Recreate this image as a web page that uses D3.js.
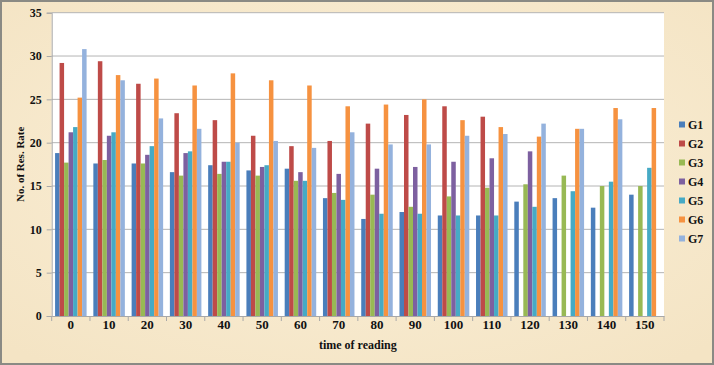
<!DOCTYPE html>
<html><head><meta charset="utf-8">
<script src="https://cdn.jsdelivr.net/npm/d3@7"></script>
<style>
html,body{margin:0;padding:0;background:#fff;}
svg{display:block;}
text{font-family:"Liberation Serif","Times New Roman",serif;font-weight:bold;fill:#111;}
</style></head>
<body><svg id="c" width="714" height="365"></svg>
<script>
const categories = ["0","10","20","30","40","50","60","70","80","90","100","110","120","130","140","150"];
const seriesNames = ["G1","G2","G3","G4","G5","G6","G7"];
const G1 = [18.8,17.6,17.6,16.6,17.4,16.8,17.0,13.6,11.2,12.0,11.6,11.6,13.2,13.6,12.5,14.0];
const G2 = [29.2,29.4,26.8,23.4,22.6,20.8,19.6,20.2,22.2,23.2,24.2,23.0,null,null,null,null];
const G3 = [17.7,18.0,17.6,16.2,16.4,16.2,15.6,14.2,14.0,12.6,13.8,14.8,15.2,16.2,15.0,15.0];
const G4 = [21.2,20.8,18.6,18.8,17.8,17.2,16.6,16.4,17.0,17.2,17.8,18.2,19.0,null,null,null];
const G5 = [21.8,21.2,19.6,19.0,17.8,17.4,15.6,13.4,11.8,11.8,11.6,11.6,12.6,14.4,15.5,17.1];
const G6 = [25.2,27.8,27.4,26.6,28.0,27.2,26.6,24.2,24.4,25.0,22.6,21.8,20.7,21.6,24.0,24.0];
const G7 = [30.8,27.2,22.8,21.6,20.0,20.2,19.4,21.2,19.8,19.8,20.8,21.0,22.2,21.6,22.7,null];
const yTicks = [0,5,10,15,20,25,30,35];
const colors = ["#4A7EBB","#BE4B48","#98B954","#7D60A0","#46AAC5","#F69240","#94B2DD"];
const seriesData = [G1,G2,G3,G4,G5,G6,G7];

(function(){
const svg = d3.select("#c");
const W = 714, H = 365;

const defs = svg.append("defs");
const rg = defs.append("radialGradient").attr("id","bg").attr("cx","50%").attr("cy","45%").attr("r","70%");
rg.append("stop").attr("offset","0%").attr("stop-color","#FBF0D9");
rg.append("stop").attr("offset","100%").attr("stop-color","#F4E4C4");
svg.append("rect").attr("x",0).attr("y",0).attr("width",W).attr("height",H).attr("fill","url(#bg)");
svg.append("rect").attr("x",1).attr("y",1).attr("width",W-2).attr("height",H-2)
  .attr("fill","none").attr("stroke","#8a8a84").attr("stroke-width",2);

const pL = 51.7, pR = 664, pT = 12.7, pB = 316;
svg.append("rect").attr("x",pL).attr("y",pT).attr("width",pR-pL).attr("height",pB-pT).attr("fill","#fff");

const y = d3.scaleLinear().domain([0,35]).range([pB, pT]);
const x0 = d3.scaleBand().domain(categories).range([pL, pR]).padding(0);
const x1 = d3.scaleBand().domain(seriesNames).range([0, x0.bandwidth()]).paddingInner(0).paddingOuter(0.75);

svg.append("g").selectAll("line").data(yTicks.filter(d=>d>0)).join("line")
  .attr("x1",pL).attr("x2",pR).attr("y1",d=>y(d)).attr("y2",d=>y(d))
  .attr("stroke","#B4B4B4").attr("stroke-width",1);

const gBars = svg.append("g");
seriesNames.forEach((s,i)=>{
  gBars.append("g").selectAll("rect")
    .data(categories.map((c,j)=>({c, v: seriesData[i][j]})).filter(d=>d.v!=null))
    .join("rect")
    .attr("x",d=>x0(d.c)+x1(s))
    .attr("y",d=>y(d.v))
    .attr("width",x1.bandwidth())
    .attr("height",d=>pB-y(d.v))
    .attr("fill",colors[i]);
});

const yAxis = d3.axisLeft(y).tickValues(yTicks).tickSize(5).tickPadding(5).tickFormat(d3.format("d"));
const ga = svg.append("g").attr("transform",`translate(${pL},0)`).call(yAxis);
ga.select(".domain").attr("stroke","#A8A8A8");
ga.selectAll(".tick line").attr("stroke","#A8A8A8");
ga.selectAll("text").attr("font-size",12).attr("font-family","Liberation Serif").attr("font-weight","bold").attr("fill","#111");

const xAxis = d3.axisBottom(x0).tickSize(0).tickPadding(4);
const gx = svg.append("g").attr("transform",`translate(0,${pB})`).call(xAxis);
gx.select(".domain").attr("stroke","#A8A8A8");
gx.selectAll("text").attr("font-size",13).attr("font-family","Liberation Serif").attr("font-weight","bold").attr("fill","#111");
svg.append("g").selectAll("line").data(categories.concat(["end"])).join("line")
  .attr("x1",(d,i)=> i<categories.length ? x0(d) : pR)
  .attr("x2",(d,i)=> i<categories.length ? x0(d) : pR)
  .attr("y1",pB).attr("y2",pB+5).attr("stroke","#A8A8A8");

svg.append("text").attr("x",(pL+pR)/2).attr("y",349).attr("text-anchor","middle")
  .attr("font-size",12).text("time of reading");
svg.append("text").attr("transform",`translate(24,${(pT+pB)/2}) rotate(-90)`).attr("text-anchor","middle")
  .attr("font-size",11).text("No. of Res. Rate");

const lg = svg.append("g");
seriesNames.forEach((s,i)=>{
  const ly = 125 + i*19;
  lg.append("rect").attr("x",679).attr("y",ly-3.5).attr("width",6).attr("height",6).attr("fill",colors[i]);
  lg.append("text").attr("x",688).attr("y",ly+4).attr("font-size",12).text(s);
});
})();
</script></body></html>
